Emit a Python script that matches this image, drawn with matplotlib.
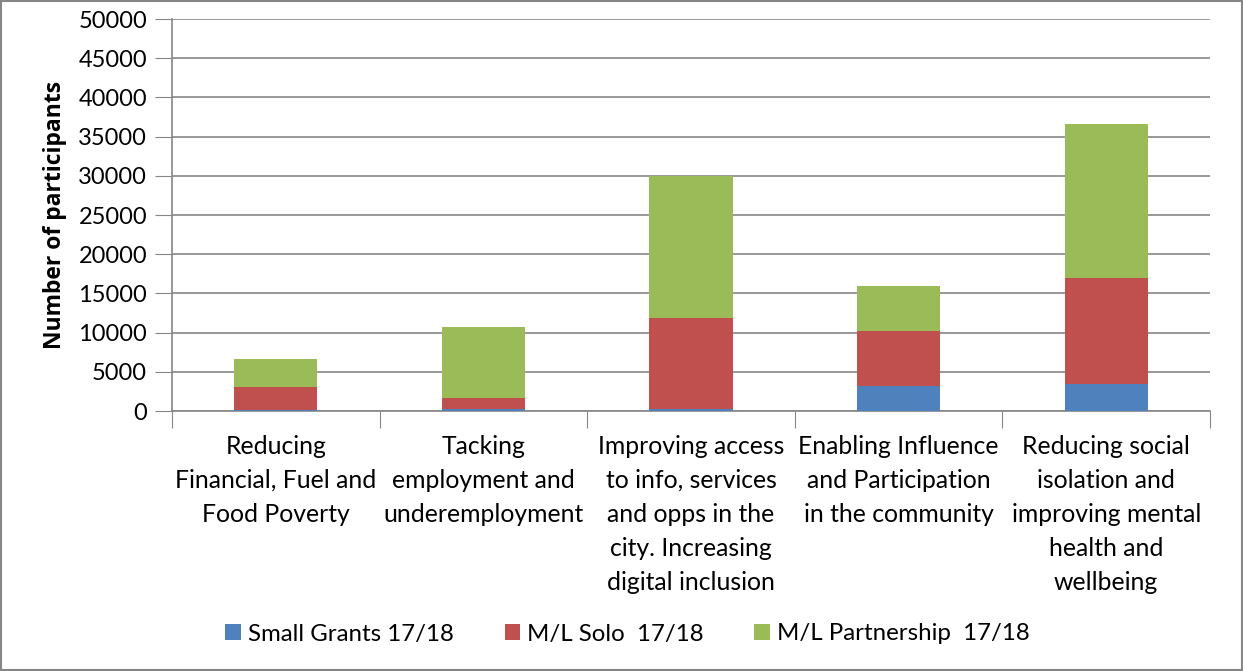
import numpy as np
import matplotlib.pyplot as plt
from matplotlib.patches import Rectangle

plt.rcParams['font.family'] = ['Lato', 'DejaVu Sans']

categories = [
    "Reducing\nFinancial, Fuel and\nFood Poverty",
    "Tacking\nemployment and\nunderemployment",
    "Improving access\nto info, services\nand opps in the\ncity. Increasing\ndigital inclusion",
    "Enabling Influence\nand Participation\nin the community",
    "Reducing social\nisolation and\nimproving mental\nhealth and\nwellbeing",
]
small_grants = [100, 200, 200, 3200, 3400]
ml_solo = [2900, 1500, 11700, 7000, 13600]
ml_partnership = [3600, 9000, 18100, 5800, 19600]

series = [
    ("Small Grants 17/18", small_grants, "#4f81bd"),
    ("M/L Solo  17/18", ml_solo, "#c0504d"),
    ("M/L Partnership  17/18", ml_partnership, "#9bbb59"),
]

fig = plt.figure(figsize=(12.43, 6.71), dpi=100)
ax = fig.add_axes([172 / 1243, 1 - 411 / 671, (1210 - 172) / 1243, (411 - 19) / 671])

x = np.arange(len(categories))
bottom = np.zeros(len(categories))
for label, vals, color in series:
    ax.bar(x, vals, 0.4, bottom=bottom, color=color, label=label, zorder=3)
    bottom += np.array(vals)

ax.set_xlim(-0.5, len(categories) - 0.5)
ax.set_ylim(0, 50000)
ax.set_yticks(np.arange(0, 50001, 5000))
ax.tick_params(axis='y', labelsize=17, length=12, color='#868686', pad=6)
ax.yaxis.grid(True, color='#868686', linewidth=1.2, zorder=0)
ax.set_axisbelow(True)

# category boundaries carry the x tick marks
ax.set_xticks(np.arange(-0.5, len(categories), 1.0))
ax.set_xticklabels([])
ax.tick_params(axis='x', length=12, color='#868686')
for xi, cat in zip(x, categories):
    ax.text(xi, -3000, cat, ha='center', va='top', fontsize=17.8, linespacing=1.58)

for side in ['top', 'right']:
    ax.spines[side].set_visible(False)
for side in ['left', 'bottom']:
    ax.spines[side].set_color('#868686')
    ax.spines[side].set_linewidth(1.2)

ax.set_ylabel("Number of participants", fontsize=16.5, fontweight='bold',
              family=['Open Sans', 'DejaVu Sans'], labelpad=8)

fig.legend(loc='center', bbox_to_anchor=(0.505, 1 - 634 / 671), ncol=3, frameon=False,
           fontsize=17.3, handlelength=0.65, handleheight=0.65, handletextpad=0.3,
           columnspacing=2.1)

fig.add_artist(Rectangle((0.001, 0.001), 0.998, 0.998, transform=fig.transFigure,
                         fill=False, edgecolor='#868686', linewidth=1.5))

fig.savefig("out.png", dpi=100)
